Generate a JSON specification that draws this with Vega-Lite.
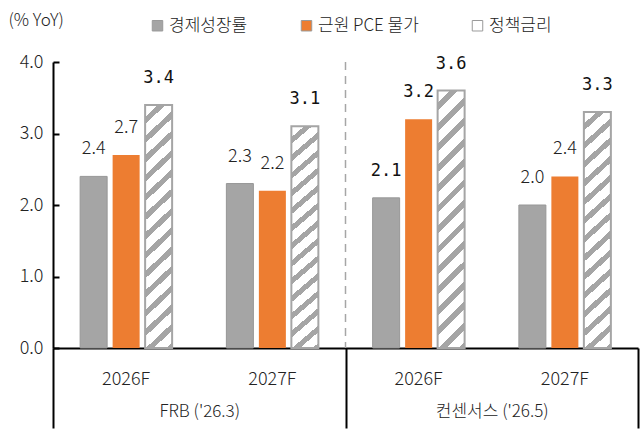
{
  "$schema": "https://vega.github.io/schema/vega-lite/v6.json",
  "width": 585,
  "height": 286,
  "autosize": "none",
  "padding": {"left": 53, "top": 62, "right": 6, "bottom": 88},
  "background": "white",
  "config": {
    "view": {"stroke": null},
    "font": "Noto Sans CJK KR",
    "axis": {"grid": false, "labelFont": "Noto Sans CJK KR", "titleFont": "Noto Sans CJK KR", "labelFontWeight": 300},
    "legend": {"labelFont": "Noto Sans CJK KR", "labelFontWeight": 300}
  },
  "layer": [
    {
      "data": {
        "values": [
          {"cat": "FRB ('26.3)|2026F", "series": "경제성장률", "value": 2.4},
          {"cat": "FRB ('26.3)|2026F", "series": "근원 PCE 물가", "value": 2.7},
          {"cat": "FRB ('26.3)|2026F", "series": "정책금리", "value": 3.4},
          {"cat": "FRB ('26.3)|2027F", "series": "경제성장률", "value": 2.3},
          {"cat": "FRB ('26.3)|2027F", "series": "근원 PCE 물가", "value": 2.2},
          {"cat": "FRB ('26.3)|2027F", "series": "정책금리", "value": 3.1},
          {"cat": "컨센서스 ('26.5)|2026F", "series": "경제성장률", "value": 2.1},
          {"cat": "컨센서스 ('26.5)|2026F", "series": "근원 PCE 물가", "value": 3.2},
          {"cat": "컨센서스 ('26.5)|2026F", "series": "정책금리", "value": 3.6},
          {"cat": "컨센서스 ('26.5)|2027F", "series": "경제성장률", "value": 2.0},
          {"cat": "컨센서스 ('26.5)|2027F", "series": "근원 PCE 물가", "value": 2.4},
          {"cat": "컨센서스 ('26.5)|2027F", "series": "정책금리", "value": 3.3}
        ]
      },
      "encoding": {
        "x": {
          "field": "cat",
          "type": "nominal",
          "scale": {
            "domain": ["FRB ('26.3)|2026F", "FRB ('26.3)|2027F", "컨센서스 ('26.5)|2026F", "컨센서스 ('26.5)|2027F"],
            "paddingInner": 0.371,
            "paddingOuter": 0.1855
          },
          "axis": {
            "orient": "bottom",
            "title": null,
            "labelExpr": "split(datum.label, '|')[1]",
            "ticks": false,
            "domainColor": "#000000",
            "domainWidth": 2,
            "labelPadding": 22,
            "labelFontSize": 18,
            "labelColor": "#222222",
            "labelAngle": 0
          }
        },
        "xOffset": {
          "field": "series",
          "type": "nominal",
          "scale": {"domain": ["경제성장률", "근원 PCE 물가", "정책금리"], "paddingInner": 0.169, "paddingOuter": 0}
        },
        "y": {
          "field": "value",
          "type": "quantitative",
          "scale": {"domain": [0, 4], "nice": false},
          "axis": {
            "values": [0, 1, 2, 3, 4],
            "format": ".1f",
            "domainColor": "#000000",
            "domainWidth": 2,
            "tickColor": "#000000",
            "tickWidth": 2,
            "tickSize": -6,
            "labelPadding": 16,
            "labelFontSize": 18,
            "labelColor": "#222222",
            "title": "(% YoY)",
            "titleAngle": 0,
            "titleX": -45,
            "titleY": -42,
            "titleAlign": "left",
            "titleBaseline": "middle",
            "titleFontSize": 17,
            "titleFontWeight": 300,
            "titleColor": "#222222"
          }
        }
      },
      "layer": [
        {
          "transform": [{"filter": "datum.series !== '정책금리'"}],
          "mark": {"type": "bar", "strokeWidth": 1},
          "encoding": {
            "color": {
              "field": "series",
              "type": "nominal",
              "scale": {"domain": ["경제성장률", "근원 PCE 물가", "정책금리"], "range": ["#a5a5a5", "#ed7d31", "#ffffff"]},
              "legend": {
                "title": null,
                "orient": "none",
                "direction": "horizontal",
                "legendX": 96,
                "legendY": -45,
                "symbolType": "square",
                "symbolSize": 110,
                "symbolStrokeColor": "#9a9a9a",
                "symbolStrokeWidth": 1,
                "labelFontSize": 17,
                "labelColor": "#222222",
                "labelOffset": 3,
                "columnPadding": 50
              }
            },
            "stroke": {
              "condition": {"test": "datum.series === '경제성장률'", "value": "#979797"},
              "value": null
            }
          }
        },
        {
          "transform": [{"filter": "datum.series === '정책금리'"}],
          "mark": {"type": "bar", "stroke": "#a5a5a5", "strokeWidth": 2},
          "encoding": {
            "fill": {
              "value": {
                "gradient": "linear",
                "x1": 0, "y1": 0, "x2": 0.115, "y2": 1.1,
                "stops": [
                  {"offset": 0, "color": "#ffffff"}, {"offset": 0.0443, "color": "#ffffff"}, {"offset": 0.0443, "color": "#a5a5a5"}, {"offset": 0.0714, "color": "#a5a5a5"},
                  {"offset": 0.0714, "color": "#ffffff"}, {"offset": 0.1157, "color": "#ffffff"}, {"offset": 0.1157, "color": "#a5a5a5"}, {"offset": 0.1429, "color": "#a5a5a5"},
                  {"offset": 0.1429, "color": "#ffffff"}, {"offset": 0.1872, "color": "#ffffff"}, {"offset": 0.1872, "color": "#a5a5a5"}, {"offset": 0.2143, "color": "#a5a5a5"},
                  {"offset": 0.2143, "color": "#ffffff"}, {"offset": 0.2586, "color": "#ffffff"}, {"offset": 0.2586, "color": "#a5a5a5"}, {"offset": 0.2857, "color": "#a5a5a5"},
                  {"offset": 0.2857, "color": "#ffffff"}, {"offset": 0.33, "color": "#ffffff"}, {"offset": 0.33, "color": "#a5a5a5"}, {"offset": 0.3571, "color": "#a5a5a5"},
                  {"offset": 0.3571, "color": "#ffffff"}, {"offset": 0.4014, "color": "#ffffff"}, {"offset": 0.4014, "color": "#a5a5a5"}, {"offset": 0.4286, "color": "#a5a5a5"},
                  {"offset": 0.4286, "color": "#ffffff"}, {"offset": 0.4729, "color": "#ffffff"}, {"offset": 0.4729, "color": "#a5a5a5"}, {"offset": 0.5, "color": "#a5a5a5"},
                  {"offset": 0.5, "color": "#ffffff"}, {"offset": 0.5443, "color": "#ffffff"}, {"offset": 0.5443, "color": "#a5a5a5"}, {"offset": 0.5714, "color": "#a5a5a5"},
                  {"offset": 0.5714, "color": "#ffffff"}, {"offset": 0.6157, "color": "#ffffff"}, {"offset": 0.6157, "color": "#a5a5a5"}, {"offset": 0.6429, "color": "#a5a5a5"},
                  {"offset": 0.6429, "color": "#ffffff"}, {"offset": 0.6872, "color": "#ffffff"}, {"offset": 0.6872, "color": "#a5a5a5"}, {"offset": 0.7143, "color": "#a5a5a5"},
                  {"offset": 0.7143, "color": "#ffffff"}, {"offset": 0.7586, "color": "#ffffff"}, {"offset": 0.7586, "color": "#a5a5a5"}, {"offset": 0.7857, "color": "#a5a5a5"},
                  {"offset": 0.7857, "color": "#ffffff"}, {"offset": 0.83, "color": "#ffffff"}, {"offset": 0.83, "color": "#a5a5a5"}, {"offset": 0.8571, "color": "#a5a5a5"},
                  {"offset": 0.8571, "color": "#ffffff"}, {"offset": 0.9014, "color": "#ffffff"}, {"offset": 0.9014, "color": "#a5a5a5"}, {"offset": 0.9286, "color": "#a5a5a5"},
                  {"offset": 0.9286, "color": "#ffffff"}, {"offset": 0.9729, "color": "#ffffff"}, {"offset": 0.9729, "color": "#a5a5a5"}, {"offset": 1, "color": "#a5a5a5"}
                ]
              }
            }
          }
        },
        {
          "transform": [{"filter": "!(datum.series === '정책금리' || (indexof(datum.cat, '컨센서스') >= 0 && indexof(datum.cat, '2026F') >= 0))"}],
          "mark": {"type": "text", "baseline": "middle", "align": "center", "dy": -27, "fontSize": 18, "fontWeight": 300, "font": "Noto Sans CJK KR", "color": "#222222"},
          "encoding": {"text": {"field": "value", "type": "quantitative", "format": ".1f"}}
        },
        {
          "transform": [{"filter": "datum.series === '정책금리' || (indexof(datum.cat, '컨센서스') >= 0 && indexof(datum.cat, '2026F') >= 0)"}],
          "mark": {"type": "text", "baseline": "middle", "align": "center", "dy": -27, "fontSize": 17, "font": "DejaVu Sans Mono", "color": "#111111"},
          "encoding": {"text": {"field": "value", "type": "quantitative", "format": ".1f"}}
        }
      ]
    },
    {
      "data": {"values": [{"group": "FRB ('26.3)"}, {"group": "컨센서스 ('26.5)"}]},
      "transform": [{"filter": "indexof(datum.group, '컨센서스') >= 0"}],
      "mark": {"type": "rule", "strokeDash": [8, 6], "color": "#a6a6a6", "strokeWidth": 1.5},
      "encoding": {
        "x": {
          "field": "group",
          "type": "nominal",
          "bandPosition": 0,
          "scale": {"domain": ["FRB ('26.3)", "컨센서스 ('26.5)"], "paddingInner": 0, "paddingOuter": 0},
          "axis": {
            "orient": "bottom",
            "title": null,
            "domain": false,
            "tickBand": "extent",
            "tickSize": 80,
            "tickWidth": 2,
            "tickColor": "#000000",
            "labelPadding": -25,
            "labelFontSize": 17,
            "labelColor": "#222222",
            "labelAngle": 0
          }
        }
      }
    }
  ],
  "resolve": {"scale": {"x": "independent"}}
}
